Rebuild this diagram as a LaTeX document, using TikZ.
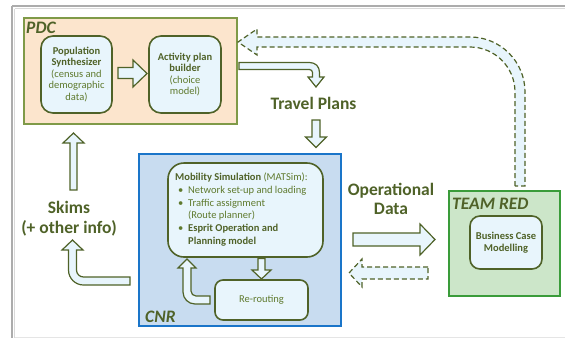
\documentclass[tikz,border=0pt]{standalone}
\usepackage{fontspec}
\setmainfont{Carlito}
\definecolor{olv}{HTML}{4F6228}
\definecolor{olvtxt}{HTML}{5F7A2E}
\definecolor{pdcline}{HTML}{7F9A48}
\definecolor{pdcfill}{HTML}{FCE5CD}
\definecolor{boxfill}{HTML}{E8F5FC}
\definecolor{cnrfill}{HTML}{C8DCF0}
\definecolor{cnrline}{HTML}{1A75C9}
\definecolor{teamfill}{HTML}{CCE6C9}
\definecolor{teamline}{HTML}{3A9C3A}
\tikzset{
  groupbox/.style={draw, inner sep=0pt, anchor=center},
  procbox/.style={draw=olv, fill=boxfill, line width=1.6pt, inner sep=0pt, align=center, text=olvtxt,
     font=\fontsize{10.5}{11.5}\selectfont},
  blockarrow/.style={draw=olv, fill=boxfill, line width=1.2pt, line join=miter},
  dasharrow/.style={blockarrow, dash pattern=on 5pt off 3pt},
  biglabel/.style={text=olv, font=\fontsize{17.5}{19.5}\selectfont\bfseries, align=center, inner sep=0pt},
  grouplabel/.style={text=olv, font=\fontsize{17.5}{19.5}\selectfont\bfseries\itshape, inner sep=0pt, anchor=base west}
}
\begin{document}
\begin{tikzpicture}[x=1pt,y=-1pt]
\useasboundingbox (0,0) rectangle (565,338);
% outer frame
\draw[gray!20, line width=1pt] (14.5,337) -- (565,337);
\draw[gray!30, line width=1pt] (14.5,8.5) -- (565,8.5) (14.5,8.5) -- (14.5,338);
\draw[gray!65, line width=2pt] (12,6) -- (565,6) (12,6) -- (12,338);

% group boxes
\node[groupbox, draw=pdcline, fill=pdcfill, line width=1.5pt, minimum width=213pt, minimum height=106pt] (pdc) at (130.5,71) {};
\node[groupbox, draw=cnrline, fill=cnrfill, line width=2pt, minimum width=202pt, minimum height=172pt] (cnr) at (240,240) {};
\node[groupbox, draw=teamline, fill=teamfill, line width=2pt, minimum width=111pt, minimum height=105pt] (team) at (504.5,243.5) {};

\node[grouplabel] (pdclab) at (26,33.5) {PDC};
\node[grouplabel] (cnrlab) at (145,322) {CNR};
\node[grouplabel] (teamlab) at (452,209) {TEAM RED};

% process boxes
\node[procbox, rounded corners=12pt, minimum width=71pt, minimum height=77pt] (pop) at (76.5,74.5)
  {\textbf{\color{olv}Population}\\\textbf{\color{olv}Synthesizer}\\(census and\\demographic\\data)};
\node[procbox, rounded corners=12pt, minimum width=72pt, minimum height=77pt] (act) at (185,74.5)
  {\textbf{\color{olv}Activity plan}\\\textbf{\color{olv}builder}\\(choice\\model)};
\node[procbox, rounded corners=16pt, minimum width=155pt, minimum height=94pt] (mob) at (245.5,210) {};
\node[anchor=north west, inner sep=0pt, align=left, text=olvtxt, font=\fontsize{10.5}{12.9}\selectfont] (mobtext) at (175,172.4)
  {\textbf{\color{olv}Mobility Simulation} (MATSim):\\
   \hspace*{3pt}\makebox[10pt][l]{•}Network set-up and loading\\
   \hspace*{3pt}\makebox[10pt][l]{•}Traffic assignment\\
   \hspace*{13pt}(Route planner)\\
   \hspace*{3pt}\makebox[10pt][l]{•}\textbf{\color{olv}Esprit Operation and}\\
   \hspace*{13pt}\textbf{\color{olv}Planning model}};
\node[procbox, rounded corners=8pt, minimum width=93pt, minimum height=40pt] (rer) at (261.5,300) {Re-routing};
\node[procbox, rounded corners=10pt, minimum width=72pt, minimum height=53pt, font=\fontsize{10.5}{12.5}\selectfont\bfseries, text=olv] (bcm) at (506,242.5) {Business Case\\Modelling};

% labels
\node[biglabel, anchor=base] (travel) at (313.5,109) {Travel Plans};
\node[biglabel] (opdata) at (391,199) {Operational\\Data};
\node[biglabel] (skims) at (69,218.5) {Skims\\(+ other info)};

% block arrows
% Population -> Activity
\draw[blockarrow] (118,67.5) -- (133,67.5) -- (133,60) -- (147,73.5) -- (133,87) -- (133,78.5) -- (118,78.5) -- cycle;
% PDC -> Travel Plans (bent)
\draw[blockarrow] (239,62.5) -- (309.5,62.5) .. controls (315.5,62.5) and (319.5,66.5) .. (319.5,72.5)
  -- (319.5,77) -- (324,77) -- (316,87) -- (308,77) -- (312.5,77) -- (312.5,72.5)
  .. controls (312.5,70.8) and (311.2,69.5) .. (309.5,69.5) -- (239,69.5) -- cycle;
% Travel Plans -> CNR
\draw[blockarrow] (312,120) -- (320,120) -- (320,137) -- (326.5,137) -- (316,147.5) -- (305.5,137) -- (312,137) -- cycle;
% Mobility -> Re-routing
\draw[blockarrow] (258,258.5) -- (265,258.5) -- (265,270) -- (271,270) -- (261.5,279) -- (252,270) -- (258,270) -- cycle;
% Re-routing -> Mobility (U)
\draw[blockarrow] (210,296) -- (196,296) .. controls (193.2,296) and (191,293.8) .. (191,291)
  -- (191,268) -- (196,268) -- (187,259) -- (178,268) -- (183,268) -- (183,292)
  .. controls (183,298.6) and (188.4,304) .. (195,304) -- (210,304) -- cycle;
% CNR -> Skims (bent)
\draw[blockarrow] (130,277) -- (83.5,277) .. controls (79.6,277) and (76.5,273.9) .. (76.5,270)
  -- (76.5,250) -- (83,250) -- (72.5,240) -- (62,250) -- (68.5,250) -- (68.5,270)
  .. controls (68.5,278.3) and (75.2,285) .. (83.5,285) -- (130,285) -- cycle;
% Skims -> PDC
\draw[blockarrow] (70,190) -- (70,143) -- (63,143) -- (73.5,133) -- (84,143) -- (77,143) -- (77,190) -- cycle;
% Operational data -> TEAM RED
\draw[blockarrow] (353,233) -- (420,233) -- (420,224) -- (435,239.5) -- (420,255) -- (420,246) -- (353,246) -- cycle;
% TEAM RED -> CNR (dashed)
\draw[dasharrow] (428,267) -- (362,267) -- (362,259) -- (349,273) -- (362,287) -- (362,279) -- (428,279) -- cycle;
% TEAM RED -> PDC (dashed, big)
\draw[dasharrow] (515,186) -- (515,92) .. controls (515,67.2) and (494.8,47) .. (470,47) -- (257,47) -- (257,55)
  -- (238,42) -- (257,29) -- (257,37) -- (470,37) .. controls (500.4,37) and (525,61.6) .. (525,92) -- (525,186) -- cycle;
\end{tikzpicture}
\end{document}
